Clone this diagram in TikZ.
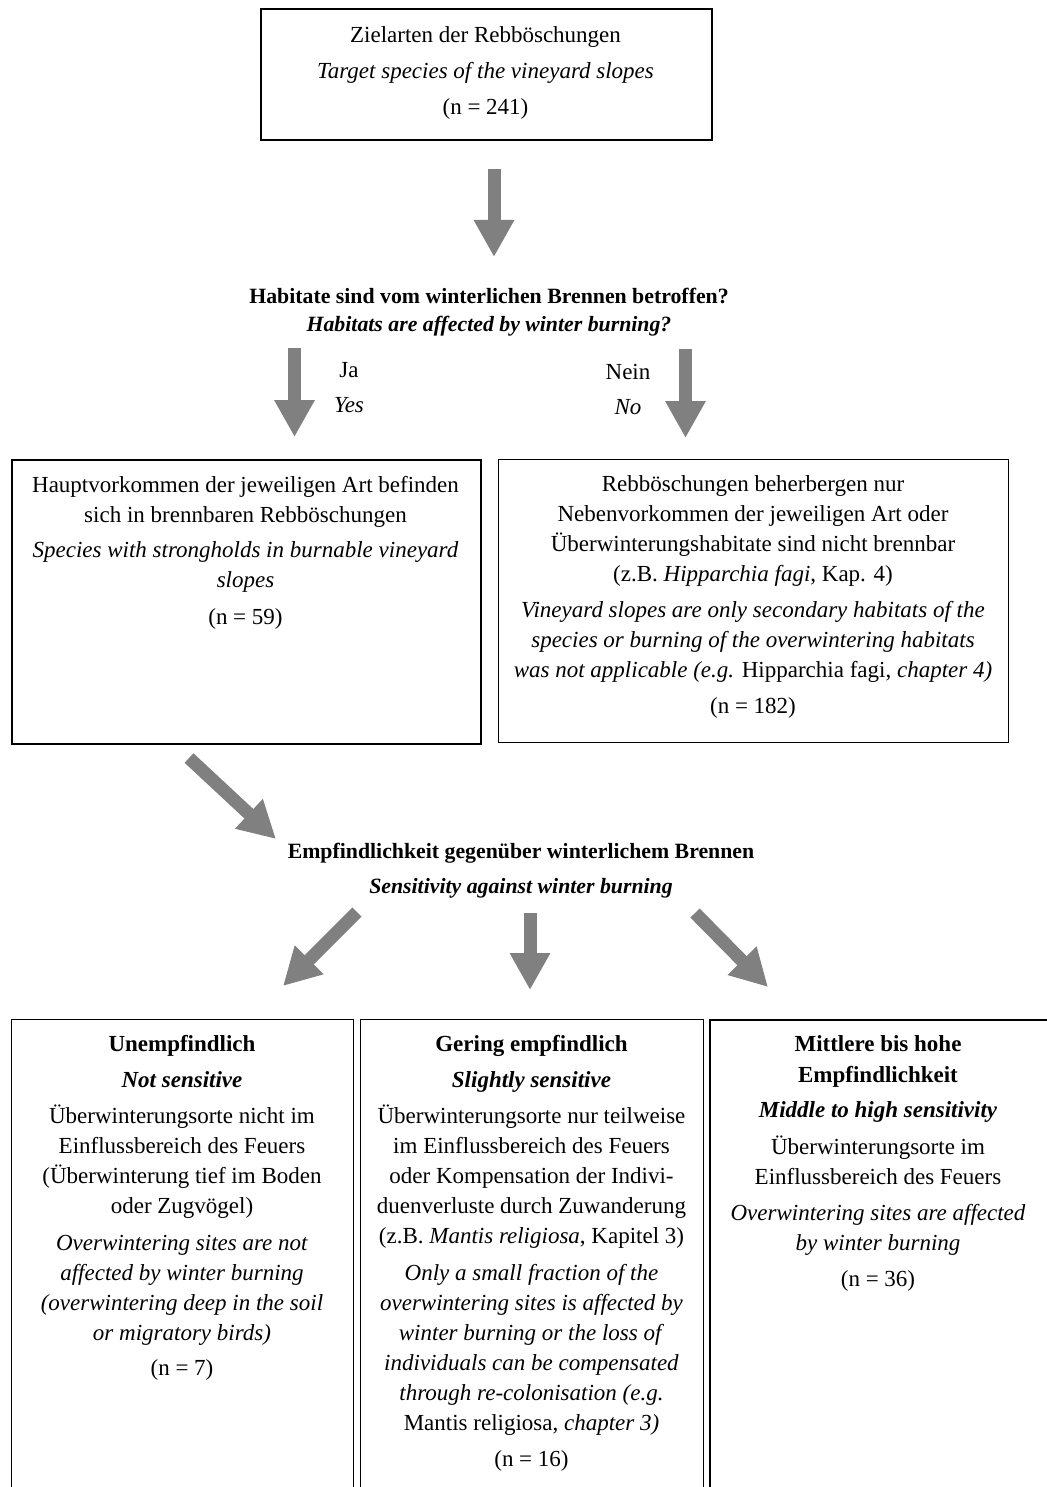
\documentclass[tikz,border=0pt]{standalone}
\usepackage{fontspec}
\setmainfont{Liberation Serif}
\usetikzlibrary{arrows.meta}
\definecolor{arrowgray}{HTML}{808080}
\begin{document}
\begin{tikzpicture}[x=0.5pt,y=-0.5pt,
  txt/.style={align=center, inner sep=0pt, anchor=north, font=\fontsize{11.5}{15}\selectfont},
  headtxt/.style={align=center, inner sep=0pt, anchor=north, font=\fontsize{10.9}{15}\selectfont\bfseries},
  boxthick/.style={draw=black, line width=1pt, inner sep=0pt, anchor=north west},
  boxthin/.style={draw=black, line width=0.5pt, inner sep=0pt, anchor=north west},
  blockarrow/.style={draw=arrowgray, line width=6.5pt, -{Triangle[length=18.5pt,width=19pt]}, arrowgray}
]
\clip (0,0) rectangle (1047,1487);
\fill[white] (0,0) rectangle (1047,1487);

% boxes
\node[boxthick, minimum width=225.5pt, minimum height=65.5pt] (topbox) at (260,8) {};
\node[boxthick, minimum width=234.5pt, minimum height=142pt] (yesbox) at (11,459) {};
\node[boxthin, minimum width=255pt, minimum height=141.5pt] (nobox) at (498,459) {};
\node[boxthin, minimum width=171pt, minimum height=245pt] (b1) at (11,1019) {};
\node[boxthin, minimum width=171.5pt, minimum height=245pt] (b2) at (360,1019) {};
\node[boxthick, minimum width=175.5pt, minimum height=245pt] (b3) at (709,1019) {};

% texts
\node[txt] (toptxt) at (485.5,21) {\strut Zielarten der Rebböschungen\\[3pt]
  \textit{Target species of the vineyard slopes}\\[3pt]
  (n = 241)};

\node[headtxt] (q1) at (489,282) {\strut Habitate sind vom winterlichen Brennen betroffen?\\[-1pt]
  \textit{Habitats are affected by winter burning?}};

\node[txt] (ja) at (349,356) {\strut Ja\\[2.5pt]\textit{Yes}};
\node[txt] (nein) at (628,358) {\strut Nein\\[2.5pt]\textit{No}};

\node[txt] (yestxt) at (245.5,471) {\strut Hauptvorkommen der jeweiligen Art befinden\\
  sich in brennbaren Rebböschungen\\[2.5pt]
  \textit{Species with strongholds in burnable vineyard}\\
  \textit{slopes}\\[3.5pt]
  (n = 59)};

\node[txt] (notxt) at (753,470) {\strut Rebböschungen beherbergen nur\\
  Nebenvorkommen der jeweiligen Art oder\\
  Überwinterungshabitate sind nicht brennbar\\
  (z.B. \textit{Hipparchia fagi}, Kap. 4)\\[3pt]
  \textit{Vineyard slopes are only secondary habitats of the}\\
  \textit{species or burning of the overwintering habitats}\\
  \textit{was not applicable (e.g.} Hipparchia fagi, \textit{chapter 4)}\\[3pt]
  (n = 182)};

\node[headtxt] (q2) at (521,837) {\strut Empfindlichkeit gegenüber winterlichem Brennen\\[2.5pt]
  \textit{Sensitivity against winter burning}};

\node[txt] (b1txt) at (182,1030) {\strut\textbf{Unempfindlich}\\[3pt]
  \textbf{\textit{Not sensitive}}\\[3pt]
  Überwinterungsorte nicht im\\
  Einflussbereich des Feuers\\
  (Überwinterung tief im Boden\\
  oder Zugvögel)\\[3.5pt]
  \textit{Overwintering sites are not}\\
  \textit{affected by winter burning}\\
  \textit{(overwintering deep in the soil}\\
  \textit{or migratory birds)}\\[2.5pt]
  (n = 7)};

\node[txt] (b2txt) at (531.5,1030) {\strut\textbf{Gering empfindlich}\\[3pt]
  \textbf{\textit{Slightly sensitive}}\\[3pt]
  Überwinterungsorte nur teilweise\\
  im Einflussbereich des Feuers\\
  oder Kompensation der Indivi-\\
  duenverluste durch Zuwanderung\\
  (z.B. \textit{Mantis religiosa}, Kapitel 3)\\[3.5pt]
  \textit{Only a small fraction of the}\\
  \textit{overwintering sites is affected by}\\
  \textit{winter burning or the loss of}\\
  \textit{individuals can be compensated}\\
  \textit{through re-colonisation (e.g.}\\
  Mantis religiosa, \textit{chapter 3)}\\[3pt]
  (n = 16)};

\node[txt] (b3txt) at (878,1030) {\strut\textbf{Mittlere bis hohe}\\[0.5pt]
  \textbf{Empfindlichkeit}\\[2.5pt]
  \textbf{\textit{Middle to high sensitivity}}\\[3.5pt]
  Überwinterungsorte im\\
  Einflussbereich des Feuers\\[3pt]
  \textit{Overwintering sites are affected}\\
  \textit{by winter burning}\\[3pt]
  (n = 36)};

% arrow end points
\coordinate (a1s) at (494,169);  \coordinate (a1e) at (494,257);
\coordinate (jas) at (294.5,348); \coordinate (jae) at (294.5,437);
\coordinate (neins) at (685.5,349); \coordinate (neine) at (685.5,438);
\coordinate (ds) at (189,758);   \coordinate (de) at (276,839);
\coordinate (ls) at (357,912);   \coordinate (le) at (283,986);
\coordinate (ms) at (530,913);   \coordinate (me) at (530,990);
\coordinate (rs) at (695,913);   \coordinate (re) at (768,987);

\draw[blockarrow] (a1s) -- (a1e);
\draw[blockarrow] (jas) -- (jae);
\draw[blockarrow] (neins) -- (neine);
\draw[blockarrow] (ds) -- (de);
\draw[blockarrow] (ls) -- (le);
\draw[blockarrow] (ms) -- (me);
\draw[blockarrow] (rs) -- (re);
\end{tikzpicture}
\end{document}
